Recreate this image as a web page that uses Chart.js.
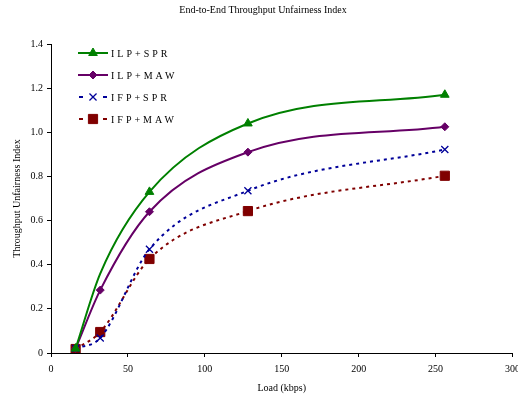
<!DOCTYPE html>
<html>
<head>
<meta charset="UTF-8">
<title>End-to-End Throughput Unfairness Index</title>
<script src="https://cdn.jsdelivr.net/npm/chart.js"></script>
<style>
  html, body { margin: 0; padding: 0; background: #fff; overflow: hidden; }
  #wrap { width: 518px; height: 398px; overflow: hidden; }
</style>
</head>
<body>
<div id="wrap"><canvas id="grafico" width="526" height="398"></canvas></div>
<script>
// dados
const cargas = [16, 32, 64, 128, 256];           // Load (kbps)
const ilpSpr = [0.02, 0.36, 0.73, 1.04, 1.17];
const ilpMaw = [0.02, 0.285, 0.64, 0.91, 1.025];
const ifpSpr = [0.02, 0.068, 0.47, 0.735, 0.922];
const ifpMaw = [0.018, 0.095, 0.426, 0.643, 0.803];
const rotulos = ['ILP+SPR', 'ILP+MAW', 'IFP+SPR', 'IFP+MAW'];

function pontos(vals) {
    return cargas.map(function (x, i) { return { x: x, y: vals[i] }; });
}

const fonte = 'Liberation Serif';

// legenda desenhada à mão (linha + marcador + texto espaçado)
const legendaPlugin = {
    id: 'legendaManual',
    afterDraw(chart) {
        const ctx = chart.ctx;
        chart.data.datasets.forEach(function (ds, i) {
            const y = 53 + i * 22;
            ctx.save();
            ctx.strokeStyle = ds.borderColor;
            ctx.fillStyle = ds.backgroundColor;
            ctx.lineWidth = ds.borderWidth;
            if (ds.borderDash) {
                ctx.beginPath();
                ctx.moveTo(79, y); ctx.lineTo(83, y);
                ctx.moveTo(103, y); ctx.lineTo(107, y);
                ctx.stroke();
            } else {
                ctx.beginPath();
                ctx.moveTo(78, y); ctx.lineTo(108, y);
                ctx.stroke();
            }
            ctx.lineWidth = ds.pointBorderWidth || 1;
            Chart.helpers.drawPoint(ctx, {
                pointStyle: ds.pointStyle,
                radius: ds.legendRadius,
                borderWidth: ds.pointBorderWidth || 1,
                rotation: 0
            }, 93, y);
            ctx.fillStyle = '#000';
            ctx.font = '10px "' + fonte + '"';
            ctx.textBaseline = 'middle';
            ctx.letterSpacing = '3px';
            ctx.fillText(ds.label, 111, y + 1);
            ctx.restore();
        });
    }
};

const ctx = document.getElementById('grafico').getContext('2d');

new Chart(ctx, {
    type: 'line',
    data: {
        datasets: [
            {
                label: rotulos[0], data: pontos(ilpSpr),
                borderColor: '#008000', backgroundColor: '#008000', borderWidth: 2,
                pointStyle: 'triangle', pointRadius: [5, 0, 5, 5, 5], legendRadius: 5,
                pointBorderWidth: 1, cubicInterpolationMode: 'monotone'
            },
            {
                label: rotulos[1], data: pontos(ilpMaw),
                borderColor: '#660066', backgroundColor: '#660066', borderWidth: 2,
                pointStyle: 'rectRot', pointRadius: 4, legendRadius: 4,
                pointBorderWidth: 1, cubicInterpolationMode: 'monotone'
            },
            {
                label: rotulos[2], data: pontos(ifpSpr),
                borderColor: '#000099', backgroundColor: '#000099', borderWidth: 2,
                borderDash: [3, 4],
                pointStyle: 'crossRot', pointRadius: 5, legendRadius: 5,
                pointBorderWidth: 1.3, cubicInterpolationMode: 'monotone'
            },
            {
                label: rotulos[3], data: pontos(ifpMaw),
                borderColor: '#800000', backgroundColor: '#800000', borderWidth: 2,
                borderDash: [3, 4],
                pointStyle: 'rect', pointRadius: 6.5, legendRadius: 6.5,
                pointBorderWidth: 1, cubicInterpolationMode: 'monotone'
            }
        ]
    },
    options: {
        responsive: false,
        animation: false,
        layout: { padding: { left: 0, right: 0, top: 0, bottom: 0 } },
        plugins: {
            legend: { display: false },
            tooltip: { enabled: false },
            title: {
                display: true,
                text: 'End-to-End Throughput Unfairness Index',
                color: '#000',
                font: { family: fonte, size: 10, weight: 'normal' },
                padding: { top: 4, bottom: 28 }
            }
        },
        scales: {
            x: {
                type: 'linear',
                min: 0, max: 300,
                ticks: { stepSize: 50, color: '#000', font: { family: fonte, size: 10 }, padding: 6 },
                grid: { drawOnChartArea: false, tickLength: 4, color: '#000' },
                border: { color: '#000', width: 1 },
                title: {
                    display: true, text: 'Load (kbps)', color: '#000',
                    font: { family: fonte, size: 10 }, padding: { top: 4 }
                },
                afterFit(scale) { scale.height = 45; }
            },
            y: {
                min: 0, max: 1.4,
                ticks: { stepSize: 0.2, color: '#000', font: { family: fonte, size: 10 }, padding: 4 },
                grid: { drawOnChartArea: false, tickLength: 4, color: '#000' },
                border: { color: '#000', width: 1 },
                title: {
                    display: true, text: 'Throughput Unfairness Index', color: '#000',
                    font: { family: fonte, size: 10 }, padding: { top: 11, bottom: 0 }
                },
                afterFit(scale) { scale.width = 51; }
            }
        }
    },
    plugins: [legendaPlugin]
});
</script>
</body>
</html>
